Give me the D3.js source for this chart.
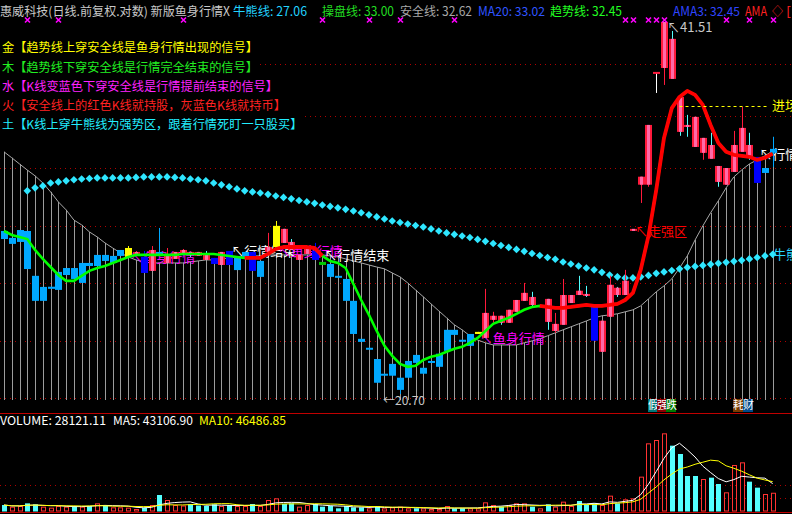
<!DOCTYPE html>
<html><head><meta charset="utf-8">
<script src="https://cdn.jsdelivr.net/npm/d3@7/dist/d3.min.js"></script>
<style>
html,body{margin:0;padding:0;background:#000;overflow:hidden}
svg{display:block}
text{font-family:"Noto Sans CJK SC","Noto Sans",sans-serif}
</style></head><body>
<svg id="chart" width="792" height="514"></svg>
<script>
// ---------- data ----------
const opens = [28.08,27.41,27.51,28.08,25.82,24.64,25.20,25.15,25.86,26.20,
25.48,26.45,26.30,26.85,26.45,26.80,26.75,26.95,26.75,26.06,
27.00,26.45,26.65,26.85,27.00,27.00,26.90,26.70,26.35,27.05,
26.10,26.75,27.00,25.77,27.00,27.25,28.19,27.51,26.60,26.90,
27.05,26.50,26.40,25.82,25.67,24.64,22.95,22.53,22.10,21.42,
21.42,20.86,21.34,22.27,21.50,21.98,21.78,22.44,23.34,22.91,
22.65,23.16,22.99,23.78,23.96,23.65,24.14,24.64,24.82,24.36,
24.73,23.29,23.56,24.54,25.11,24.96,24.45,22.40,23.92,25.25,
24.91,28.19,30.62,30.62,37.74,38.09,40.22,36.08,34.24,34.76,
32.50,32.98,31.71,30.62,31.36,32.56,32.98,32.25,31.30,32.50];
const closes = [27.66,27.72,28.13,26.15,24.64,25.29,25.30,26.01,26.20,25.67,
26.45,26.30,26.85,26.55,26.80,27.10,27.20,27.00,25.96,27.10,
26.90,26.85,27.00,27.10,26.95,26.80,26.60,26.40,27.00,26.35,
26.75,27.00,26.06,26.55,27.25,28.35,27.46,27.10,26.85,27.15,
26.60,26.35,25.77,25.77,24.64,23.16,22.82,22.57,21.14,21.50,
21.90,21.34,22.02,21.94,21.74,22.02,22.32,23.34,23.12,22.87,
23.16,23.25,24.09,23.96,23.65,24.23,24.68,25.01,24.45,24.45,
23.69,23.60,24.91,24.91,24.91,24.87,22.87,23.74,25.39,24.91,
25.58,28.19,31.08,34.24,37.74,41.51,37.32,33.80,34.11,32.86,
33.42,32.14,30.78,31.59,32.98,34.05,32.20,30.72,31.59,32.74];
const highs = [28.08,27.72,28.13,28.08,25.82,25.29,25.30,26.01,26.20,26.20,
26.45,26.45,26.85,26.85,26.80,27.10,27.30,27.05,27.05,27.30,
28.24,27.20,27.00,27.15,27.00,27.00,27.05,26.70,27.00,27.05,
26.75,27.00,27.00,26.55,27.98,28.61,28.19,27.66,26.85,27.15,
27.46,26.50,26.40,25.82,25.67,24.64,22.95,22.57,22.10,21.50,
21.90,21.34,22.02,22.27,21.74,22.02,22.32,23.34,23.34,22.91,
23.16,23.25,25.20,24.14,23.96,24.23,24.68,25.48,25.06,24.45,
24.73,24.09,25.67,24.91,25.82,25.34,24.45,23.74,25.82,25.29,
26.11,28.19,31.08,34.24,37.74,41.51,40.82,36.22,34.89,34.76,
33.42,33.74,31.71,31.59,33.86,35.42,33.74,32.25,31.59,33.49];
const lows = [27.66,27.41,27.51,26.15,24.64,24.64,25.20,25.15,25.86,25.67,
25.48,26.30,26.30,26.55,26.45,26.80,26.75,26.90,25.96,26.06,
26.90,26.45,26.65,26.85,26.75,26.80,26.60,26.40,26.35,26.35,
26.10,26.75,26.06,25.77,27.00,27.25,27.46,27.10,26.60,26.90,
26.60,26.35,25.77,25.77,24.64,23.16,22.82,22.53,21.14,21.42,
21.42,20.70,21.34,21.94,21.50,21.98,21.78,22.44,23.12,22.87,
22.65,23.16,22.99,23.65,23.56,23.65,24.14,24.64,24.36,24.36,
23.34,23.21,23.56,24.54,24.91,24.82,22.87,22.40,23.92,24.82,
24.91,28.19,29.59,30.50,36.35,36.90,37.32,33.55,33.49,32.86,
32.08,32.14,30.50,30.62,31.36,32.56,32.08,30.72,31.30,31.65];
// candle colour state: b=grey-blue, d=blue, r=red, y=yellow, g=green, w=white
const kinds = ("bbbbbbbbbbbbbbbb"+"yrdr"+"brrrrrrdrd"+"bbdbryrrrrdg"+
  "bbbbbbbbbbbbbbbbbbb"+"y"+"rrrrrrrrrrrrrr"+"d"+"rrrrrrr"+"w"+"rrrrrrrrrrrr"+"d"+"bb").split("");
const volumes = [9750,7250,8250,12250,10750,7250,5750,8250,7250,8250,
7250,8250,12250,9750,6250,6250,5750,3750,5750,9750,
24750,17250,9750,9000,11250,9000,8250,10750,8250,9750,
8250,8250,11250,8250,17250,19750,11250,12250,7250,9750,
11250,7250,8250,4750,8250,6250,6250,4750,8250,4750,
6250,7250,4750,4750,4750,3750,3750,8250,4750,4750,
4750,4750,13750,9750,7250,9750,12250,12250,7250,4750,
10750,7250,14750,8250,15750,10750,12250,9750,23750,12250,
18250,19750,52250,102250,107250,117250,98750,86250,53250,53250,
48750,50750,41250,28750,69750,73750,44750,35750,26250,28121.11];
// 安全线 (safety line)
const safetyLine = [32.56,32.20,31.83,31.47,31.13,30.72,30.21,29.65,29.21,28.66,
28.40,28.03,27.77,27.46,27.20,26.95,26.75,26.60,26.50,26.45,
26.45,26.45,26.45,26.45,26.50,26.55,26.60,26.60,26.65,26.70,
26.75,26.75,26.80,26.80,26.85,26.85,26.85,26.85,26.85,26.85,
26.85,26.85,26.80,26.75,26.65,26.55,26.45,26.35,26.25,26.16,
25.96,25.77,25.48,25.15,24.83,24.50,24.18,23.87,23.56,23.34,
23.08,22.90,22.78,22.69,22.69,22.69,22.69,22.78,22.86,22.95,
23.08,23.21,23.34,23.47,23.60,23.73,23.87,23.96,24.00,24.05,
24.14,24.23,24.41,24.73,25.06,25.34,25.67,26.20,26.80,27.61,
28.35,29.05,29.71,30.44,31.07,31.47,31.83,32.07,32.32,32.62];
// 牛熊线 (bull/bear line), starts at the 4th bar
const bullBear = [null,null,null,30.27,30.44,30.55,30.72,30.78,30.84,30.90,
30.95,30.98,31.01,31.01,31.01,31.01,31.01,31.04,31.07,31.07,
31.07,31.07,31.04,31.01,30.95,30.90,30.84,30.72,30.61,30.50,
30.38,30.27,30.21,30.15,30.07,29.98,29.90,29.82,29.73,29.65,
29.57,29.48,29.40,29.32,29.24,29.15,29.05,28.94,28.83,28.72,
28.61,28.53,28.45,28.37,28.29,28.19,28.08,27.98,27.90,27.82,
27.74,27.64,27.54,27.43,27.33,27.23,27.13,27.03,26.92,26.82,
26.72,26.63,26.50,26.40,26.30,26.20,26.11,25.99,25.86,25.77,
25.72,25.72,25.77,25.84,25.94,26.01,26.08,26.16,26.23,26.28,
26.33,26.38,26.43,26.48,26.53,26.58,26.65,26.72,26.80,26.88];
// 趋势线 (trend line)
const trendLine = [28.08,27.87,27.77,27.66,27.10,26.65,26.25,25.86,25.58,25.58,
25.82,26.06,26.20,26.30,26.45,26.60,26.75,26.85,26.85,26.85,
26.85,26.85,26.85,26.90,26.90,26.90,26.90,26.90,26.85,26.80,
26.75,26.70,26.70,26.70,26.90,27.15,27.25,27.25,27.25,27.25,
27.20,26.80,26.55,26.45,26.20,25.43,24.68,24.00,23.29,22.65,
22.23,21.90,21.78,21.82,22.06,22.19,22.27,22.40,22.53,22.61,
22.78,22.99,23.29,23.60,23.74,23.87,24.05,24.23,24.36,24.41,
24.36,24.32,24.32,24.36,24.41,24.45,24.41,24.41,24.45,24.50,
24.68,25.01,26.11,27.82,30.32,33.42,35.33,36.08,36.49,36.22,
35.55,34.24,33.11,32.56,32.38,32.32,32.26,32.07,32.20,32.45];
// trend state: 1 = strong (drawn red)
const trendStrong = idx0 => (idx0>=31 && idx0<=41) || idx0>=69;
const signalMarks = [3,7,23,41,47,51,58,80,81,83,84,85,93,96,99];
const gridPrices = [38.35,34.83,31.57,28.35,25.47,22.86,20.53];
const volGrid = [40000,20000];
const notes = [
  {i:16, p:26.75, t:"↖鱼身行情", c:"#ff00ff"},
  {i:29, p:27.05, t:"↖行情结束", c:"#ffffff"},
  {i:35, p:27.05, t:"↖鱼身行情", c:"#ff00ff"},
  {i:41, p:26.85, t:"↖行情结束", c:"#ffffff"},
  {i:61, p:22.99, t:"↖鱼身行情", c:"#ff00ff"},
  {i:81, p:28.08, t:"↖走强区", c:"#ff0000"},
  {i:97, p:32.38, t:"↖行情结束", c:"#ffffff"}
];
const entryLevel = 35.50, entryFrom = 87;
const headerItems = [
  {t:"惠威科技(日线.前复权.对数) 新版鱼身行情X", c:"#c8c8c8", x:0, w:230},
  {t:"牛熊线: 27.06", c:"#22d3ff", x:233, w:74},
  {t:"操盘线: 33.00", c:"#22dd22", x:322, w:72},
  {t:"安全线: 32.62", c:"#a8a8a8", x:400, w:72},
  {t:"MA20: 33.02", c:"#2f55ff", x:478, w:67},
  {t:"趋势线: 32.45", c:"#22ff22", x:550, w:72},
  {t:"AMA3: 32.45", c:"#2f45ff", x:673, w:67},
  {t:"AMA", c:"#ff2020", x:745, w:22},
  {t:"◇", c:"#ff2020", x:772, w:11},
  {t:"[", c:"#ff2020", x:786, w:5}
];
const legendLines = [
  {h:"金", t:"【趋势线上穿安全线是鱼身行情出现的信号】", c:"#ffff00"},
  {h:"木", t:"【趋势线下穿安全线是行情完全结束的信号】", c:"#22ee22"},
  {h:"水", t:"【K线变蓝色下穿安全线是行情提前结束的信号】", c:"#ff22ff"},
  {h:"火", t:"【安全线上的红色K线就持股，灰蓝色K线就持币】", c:"#ff2222"},
  {h:"土", t:"【K线上穿牛熊线为强势区，跟着行情死盯一只股买】", c:"#22eeff"}
];
const volHeader = [
  {t:"VOLUME: 28121.11", c:"#ffffff", x:0, w:106},
  {t:"MA5: 43106.90", c:"#ffffff", x:113, w:80},
  {t:"MA10: 46486.85", c:"#ffff00", x:199, w:87}
];

// ---------- drawing ----------
const svg = d3.select("#chart");
svg.append("rect").attr("width",792).attr("height",514).attr("fill","#000");
const N = opens.length;
const idx = d3.range(N);
const x = d3.scalePoint().domain(idx).range([4, 772.7]);
const y = d3.scaleLog().domain([20.70, 41.51]).range([394, 22]);
const yv = d3.scaleLinear().domain([0,150000]).range([511.5,411.5]);

const kindColor = {b:"#00a8ff", d:"#0000ff", r:"#ff1a3c", y:"#ffff00", g:"#00c800", w:"#ffffff"};

// grid lines
svg.append("g").selectAll("line").data(gridPrices).join("line")
  .attr("x1",0).attr("x2",792)
  .attr("y1",d=>Math.round(y(d))+0.5).attr("y2",d=>Math.round(y(d))+0.5)
  .attr("stroke","#b00000").attr("stroke-dasharray","1,4");

// grey sticks up to the safety line
svg.append("g").selectAll("line").data(idx).join("line")
  .attr("x1",i=>Math.round(x(i))+0.5).attr("x2",i=>Math.round(x(i))+0.5)
  .attr("y1",400).attr("y2",i=>y(safetyLine[i]))
  .attr("stroke","#9c9c9c").attr("stroke-width",1);
svg.append("path").datum(idx)
  .attr("d",d3.line().x(i=>x(i)).y(i=>y(safetyLine[i])))
  .attr("fill","none").attr("stroke","#a8a8a8").attr("stroke-width",1);

// bull/bear diamonds
svg.append("g").selectAll("path").data(idx.filter(i=>bullBear[i]!=null)).join("path")
  .attr("transform",i=>`translate(${x(i)},${y(bullBear[i])})`)
  .attr("d","M0,-3.8L3.8,0L0,3.8L-3.8,0Z")
  .attr("fill","#2ee6ff");

// notes (behind candles)
const noteG = svg.append("g");
noteG.selectAll("text").data(notes).join("text")
  .attr("x",d=>x(d.i)+2).attr("y",d=>y(d.p)).attr("dy","0.36em")
  .attr("font-size",13).attr("fill",d=>d.c).text(d=>d.t);

// candles
const cg = svg.append("g");
idx.forEach(i=>{
  const k = kinds[i];
  const o=opens[i], c=closes[i];
  const down = c<o;
  let wc = kindColor[k];
  if(k==="r") wc = down ? "#54ffff" : "#ff1a3c";
  const cx = Math.round(x(i))+0.5;
  cg.append("line").attr("x1",cx).attr("x2",cx)
    .attr("y1",y(highs[i])).attr("y2",y(lows[i]))
    .attr("stroke",wc).attr("stroke-width",1);
  const top = y(Math.max(o,c)), bot = y(Math.min(o,c));
  const h = Math.max(2, bot-top);
  const bx = Math.round(x(i))-3;
  if(k==="w"){
    cg.append("rect").attr("x",bx).attr("y",top-1).attr("width",7).attr("height",2).attr("fill","#ff1a3c");
    return;
  }
  cg.append("rect").attr("x",bx).attr("y",top).attr("width",7).attr("height",h)
    .attr("fill",kindColor[k]);
  if(k==="r"){
    cg.append("rect").attr("x",bx+2).attr("y",top).attr("width",3).attr("height",h)
      .attr("fill","#ff6aa8");
  }
});

// trend line
const tl = d3.line().x(i=>x(i)).y(i=>y(trendLine[i]));
svg.append("path").datum(idx).attr("d",tl)
  .attr("fill","none").attr("stroke","#00ff00").attr("stroke-width",2.6);
svg.append("path").datum(idx)
  .attr("d",d3.line().defined(i=>trendStrong(i)).x(i=>x(i)).y(i=>y(trendLine[i])))
  .attr("fill","none").attr("stroke","#ff0000").attr("stroke-width",3.8).attr("stroke-linejoin","round");

// entry dashed line
svg.append("line").attr("x1",x(entryFrom)).attr("x2",768)
  .attr("y1",Math.round(y(entryLevel))+0.5).attr("y2",Math.round(y(entryLevel))+0.5)
  .attr("stroke","#ffff00").attr("stroke-dasharray","3,3");
svg.append("text").attr("x",772).attr("y",y(entryLevel)).attr("dy","0.36em")
  .attr("font-size",13).attr("fill","#ffff00").text("进场");
svg.append("text").attr("x",773).attr("y",y(bullBear[N-1])).attr("dy","0.36em")
  .attr("font-size",13).attr("fill","#27d4ff").text("牛熊线");

// high / low labels
const hiI = d3.maxIndex(highs), loI = d3.minIndex(lows);
svg.append("text").attr("x",x(hiI)+3).attr("y",y(highs[hiI])+5).attr("dy","0.36em")
  .attr("font-size",13).attr("fill","#c8c8c8").text("↖"+highs[hiI].toFixed(2));
svg.append("text").attr("x",x(loI)-17).attr("y",401).attr("dy","0.36em")
  .attr("font-size",12).attr("fill","#c8c8c8").text("←"+lows[loI].toFixed(2));

// signal markers at top
svg.append("g").selectAll("path").data(signalMarks).join("path")
  .attr("transform",i=>`translate(${Math.round(x(i))+0.5},20)`)
  .attr("d","M-2.5,-2.5L2.5,2.5M2.5,-2.5L-2.5,2.5")
  .attr("stroke","#ff00ff").attr("stroke-width",1.6);

// bottom signal boxes
const boxes = [{x:648,t:"假",bg:"#007a7a"},{x:657,t:"强",bg:"#8a0000"},{x:666,t:"跌",bg:"#007a00"},
               {x:733,t:"耗",bg:"#7a3a00"},{x:743,t:"财",bg:"#004a8a"}];
boxes.forEach(b=>{
  svg.append("rect").attr("x",b.x).attr("y",399).attr("width",10).attr("height",13).attr("fill",b.bg);
  svg.append("text").attr("x",b.x).attr("y",405.5).attr("dy","0.36em").attr("font-size",11)
    .attr("fill","#ffffff").text(b.t);
});

// header
const hg = svg.append("g");
headerItems.forEach(h=>{
  hg.append("text").attr("x",h.x).attr("y",11).attr("dy","0.36em")
    .attr("font-size",12.5).attr("fill",h.c)
    .attr("textLength",h.w).attr("lengthAdjust","spacingAndGlyphs").text(h.t);
});
// legend lines with black background
legendLines.forEach((l,k)=>{
  const yy = 48 + k*19.2;
  const g = svg.append("g");
  const bg = g.append("rect").attr("fill","#000");
  const t = g.append("text").attr("x",2).attr("y",yy).attr("dy","0.36em").attr("font-size",12.2).attr("fill",l.c);
  t.append("tspan").text(l.h);
  t.append("tspan").text(l.t);
  const bb = t.node().getBBox();
  bg.attr("x",0).attr("y",bb.y).attr("width",bb.width+4).attr("height",bb.height);
});

// ---------- volume panel ----------
svg.append("line").attr("x1",0).attr("x2",792).attr("y1",413.5).attr("y2",413.5).attr("stroke","#c00000");
svg.append("line").attr("x1",0).attr("x2",792).attr("y1",512.5).attr("y2",512.5).attr("stroke","#c00000");
svg.append("g").selectAll("line").data(volGrid).join("line")
  .attr("x1",0).attr("x2",792)
  .attr("y1",d=>Math.round(yv(d))+0.5).attr("y2",d=>Math.round(yv(d))+0.5)
  .attr("stroke","#b00000").attr("stroke-dasharray","1,4");
volHeader.forEach(h=>{
  svg.append("text").attr("x",h.x).attr("y",421).attr("dy","0.36em")
    .attr("font-family","Noto Sans").attr("font-size",12).attr("fill",h.c)
    .attr("textLength",h.w).attr("lengthAdjust","spacingAndGlyphs").text(h.t);
});
const vg = svg.append("g");
idx.forEach(i=>{
  const up = closes[i]>=opens[i];
  const top = yv(volumes[i]);
  const bx = Math.round(x(i))-2;
  if(up){
    vg.append("rect").attr("x",bx+0.5).attr("y",top+0.5).attr("width",4).attr("height",Math.max(0,yv(0)-top-1))
      .attr("fill","none").attr("stroke","#ff3232");
  } else {
    vg.append("rect").attr("x",bx).attr("y",top).attr("width",5).attr("height",yv(0)-top).attr("fill","#54ffff");
  }
});
const ma = n => idx.map(i=>d3.mean(volumes.slice(Math.max(0,i-n+1),i+1)));
const ma5 = ma(5), ma10 = ma(10);
svg.append("path").datum(idx).attr("d",d3.line().x(i=>x(i)).y(i=>yv(ma5[i])))
  .attr("fill","none").attr("stroke","#ffffff").attr("stroke-width",1);
svg.append("path").datum(idx).attr("d",d3.line().x(i=>x(i)).y(i=>yv(ma10[i])))
  .attr("fill","none").attr("stroke","#ffff00").attr("stroke-width",1);
</script></body></html>
